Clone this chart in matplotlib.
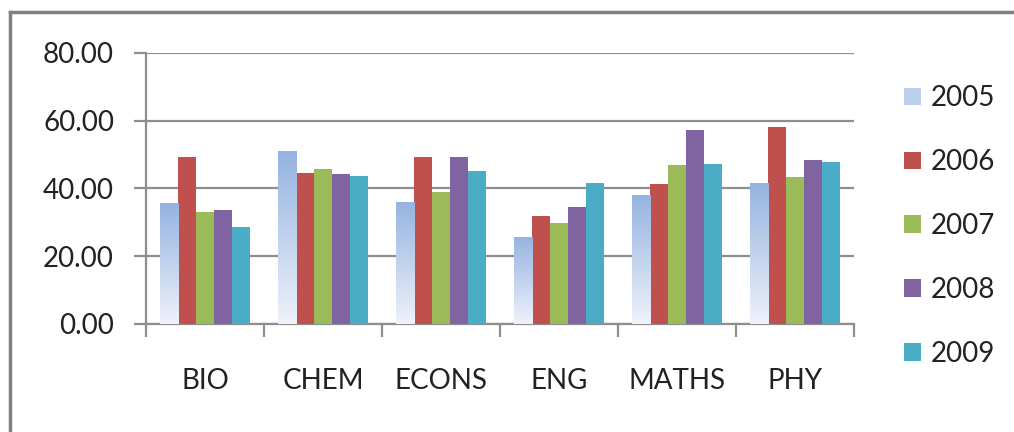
import matplotlib
matplotlib.use("Agg")
import matplotlib.pyplot as plt
import numpy as np
from matplotlib.lines import Line2D
from matplotlib.colors import LinearSegmentedColormap

plt.rcParams['font.family'] = ['Lato', 'DejaVu Sans']

categories = ["BIO", "CHEM", "ECONS", "ENG", "MATHS", "PHY"]
years = ["2005", "2006", "2007", "2008", "2009"]
v2005 = [35.6, 51.0, 36.0, 25.7, 38.1, 41.7]
v2006 = [49.3, 44.6, 49.3, 31.9, 41.2, 58.0]
v2007 = [33.0, 45.7, 39.0, 29.9, 46.8, 43.3]
v2008 = [33.6, 44.2, 49.3, 34.6, 57.1, 48.4]
v2009 = [28.6, 43.7, 45.2, 41.6, 47.2, 47.8]
series = [v2005, v2006, v2007, v2008, v2009]
yticks = [0, 20, 40, 60, 80]

colors = ["#95B3E0", "#C0504D", "#9BBB59", "#8064A2", "#4BACC6"]
grid_c = "#8E8E8E"

fig = plt.figure(figsize=(10.14, 4.32), dpi=100)
ax = fig.add_axes([0.144, 0.25, 0.698, 0.628])

x = np.arange(len(categories))
w = 0.153
bars_all = []
for i, (vals, c, yr) in enumerate(zip(series, colors, years)):
    bars = ax.bar(x + (i - 2) * w, vals, width=w, color=c, label=yr, zorder=3, linewidth=0)
    bars_all.append(bars)

# gradient for 2005 bars
cmap = LinearSegmentedColormap.from_list("g", ["#EEF2FA", "#95B3E0"])
grad = np.linspace(0, 1, 256).reshape(-1, 1)
for b in bars_all[0]:
    bx, by = b.get_x(), b.get_y()
    bw, bh = b.get_width(), b.get_height()
    im = ax.imshow(grad, cmap=cmap, origin="lower", aspect="auto",
                   extent=[bx, bx + bw, by, by + bh], zorder=3.5)
    im.set_clip_path(b)
    b.set_facecolor("none")

ax.set_xlim(-0.5, len(categories) - 0.5)
ax.set_ylim(0, 80)
ax.set_yticks(yticks)
ax.set_yticklabels([f"{t:.2f}" for t in yticks])
ax.yaxis.grid(True, color=grid_c, linewidth=1.6, zorder=0)
ax.set_axisbelow(True)

ax.set_xticks(x)
ax.set_xticklabels(categories)
ax.set_xticks(np.arange(-0.5, len(categories), 1.0), minor=True)
ax.tick_params(axis="x", which="major", length=0, pad=32, labelsize=20, colors="#222222")
ax.tick_params(axis="x", which="minor", length=9, width=1.6, color=grid_c, direction="out")
ax.tick_params(axis="y", length=9, width=1.6, color=grid_c, pad=14, labelsize=20, labelcolor="#222222")

for s in ["top", "right"]:
    ax.spines[s].set_visible(False)
for s in ["left", "bottom"]:
    ax.spines[s].set_color(grid_c)
    ax.spines[s].set_linewidth(1.6)

leg = ax.legend(loc="upper left", bbox_to_anchor=(0.881, 0.828), bbox_transform=fig.transFigure,
                frameon=False, fontsize=20, labelspacing=1.36, handlelength=0.6,
                handleheight=0.6, handletextpad=0.35, borderaxespad=0)
leg.legend_handles[0].set_facecolor("#BCCFEC")
for t in leg.get_texts():
    t.set_color("#222222")

# outer frame (top and left)
fig.add_artist(Line2D([10 / 1014, 1.0], [1 - 12 / 432, 1 - 12 / 432], transform=fig.transFigure,
                      color="#808080", linewidth=2.5))
fig.add_artist(Line2D([10 / 1014, 10 / 1014], [0, 1 - 12 / 432], transform=fig.transFigure,
                      color="#808080", linewidth=2.5))

fig.savefig("out.png", dpi=100)
